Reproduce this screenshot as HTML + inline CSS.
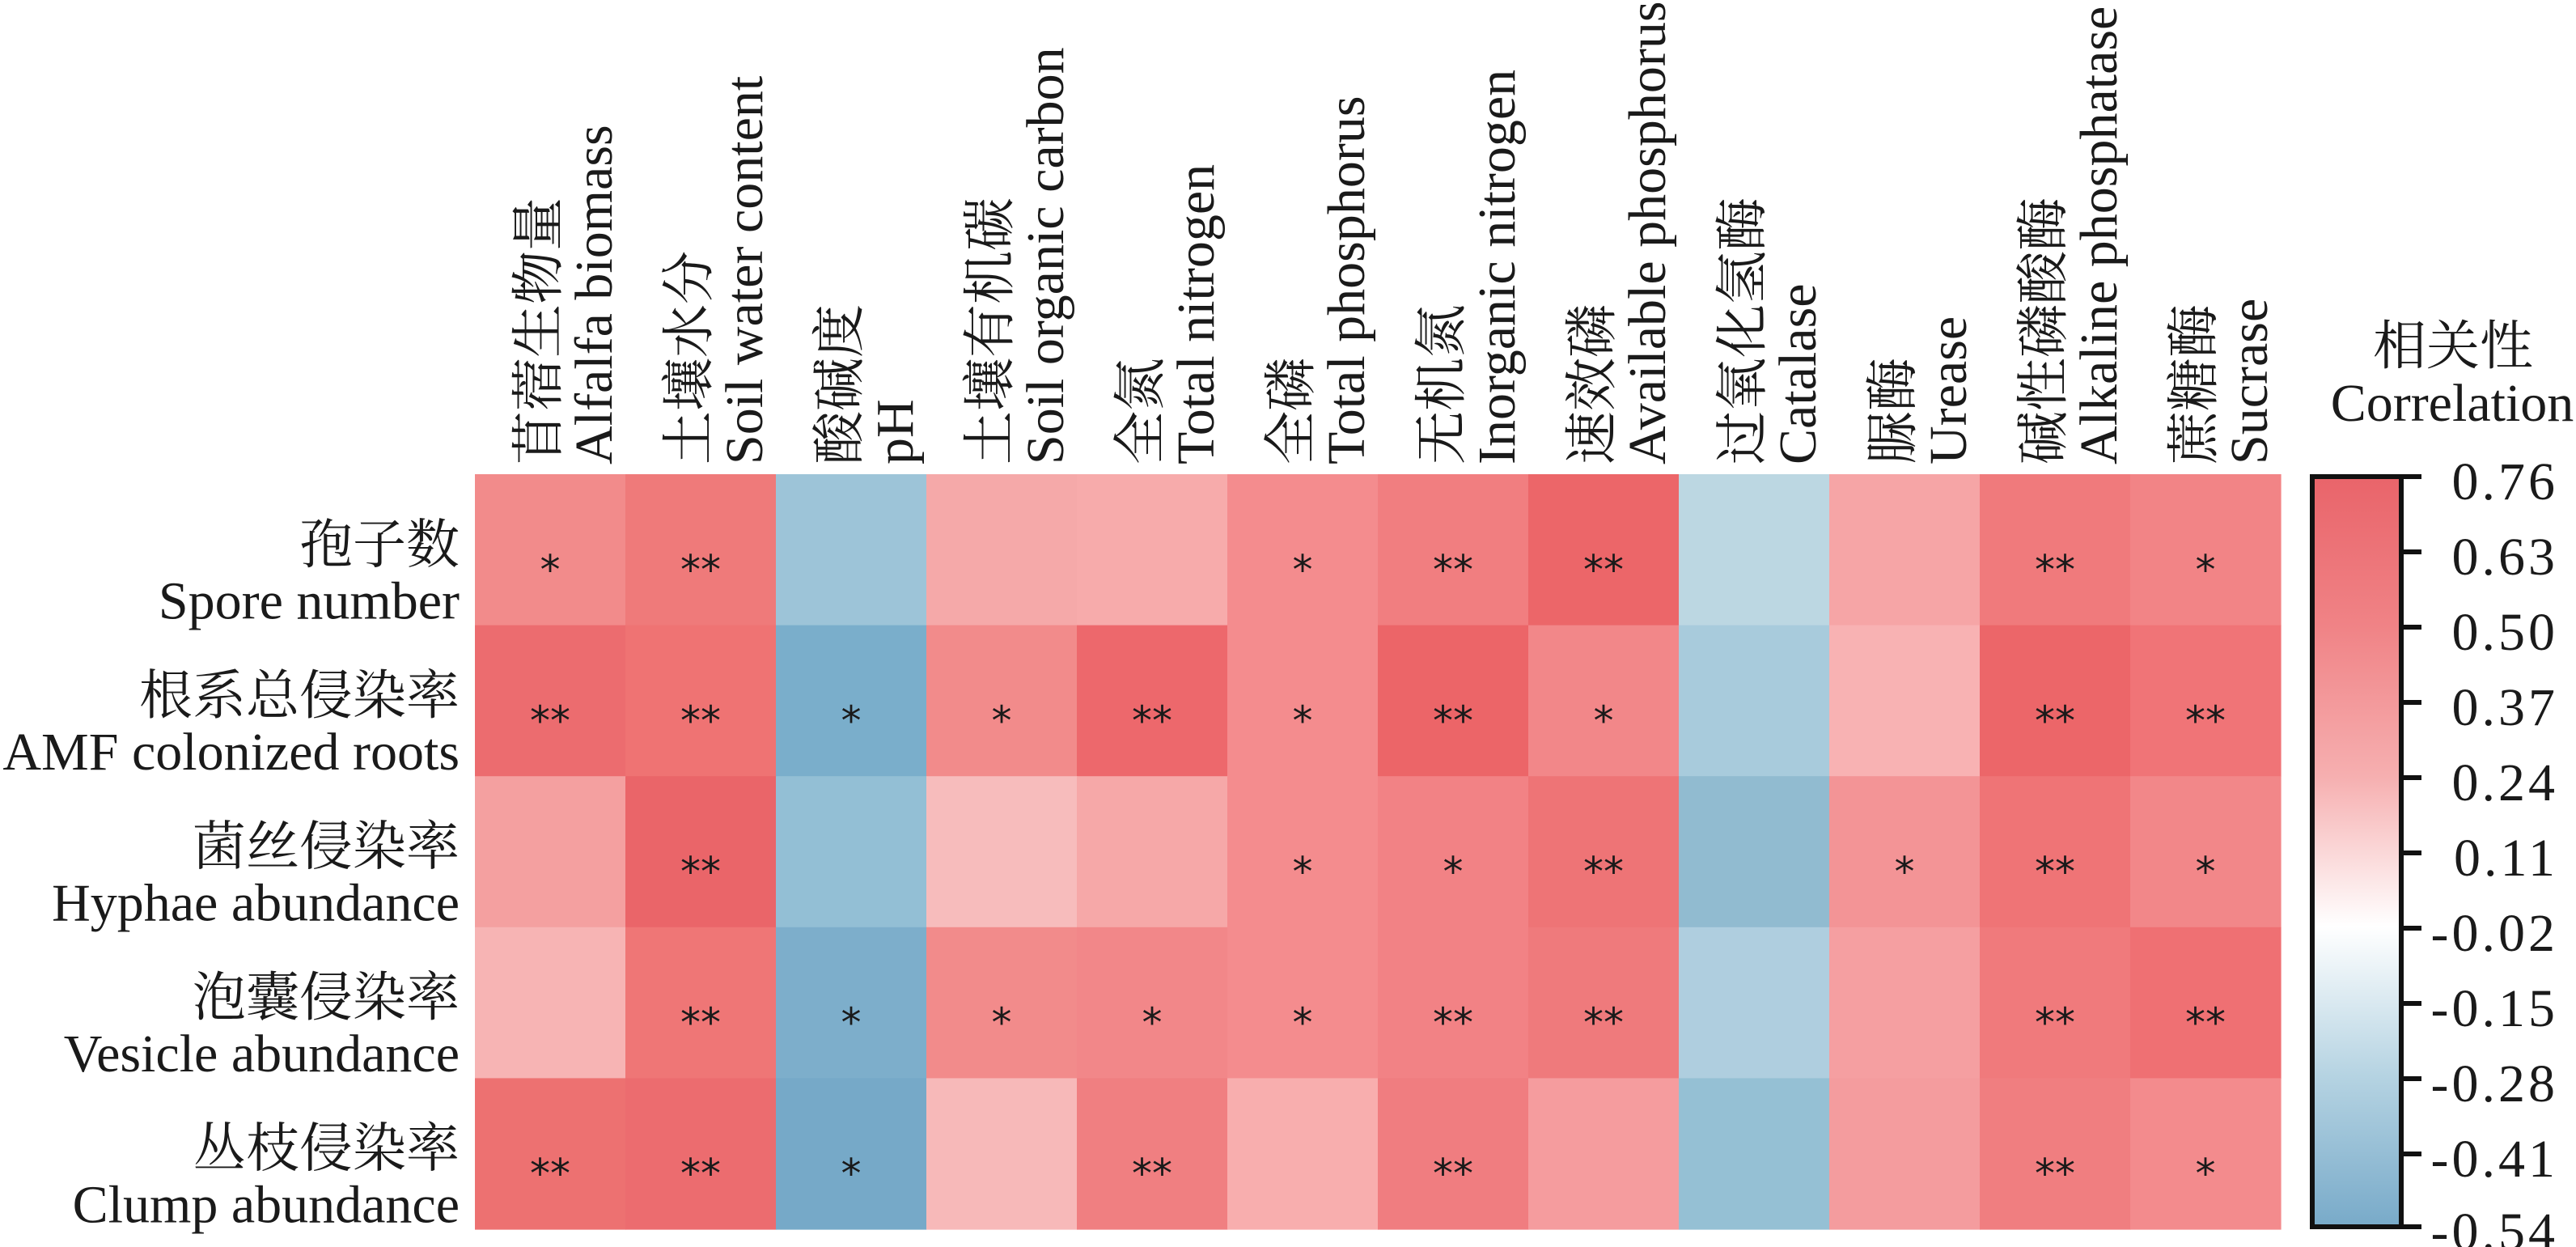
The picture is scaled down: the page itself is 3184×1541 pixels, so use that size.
<!DOCTYPE html>
<html><head><meta charset="utf-8"><style>
html,body{margin:0;padding:0;background:#fff;}
svg{display:block;}
.t{font-family:"Liberation Serif","Noto Serif CJK SC","Noto Sans CJK SC",serif;font-size:66px;fill:#1a1a1a;}
.s{font-family:"DejaVu Sans","Liberation Sans",sans-serif;font-size:50px;fill:#1a1a1a;text-anchor:middle;}
</style></head><body>
<svg width="3184" height="1541" viewBox="0 0 3184 1541" xmlns="http://www.w3.org/2000/svg">
<defs>
<linearGradient id="g" x1="0" y1="0" x2="0" y2="1">
<stop offset="0" stop-color="#e9646a"/>
<stop offset="0.2" stop-color="#f08386"/>
<stop offset="0.4" stop-color="#f6afb0"/>
<stop offset="0.6" stop-color="#ffffff"/>
<stop offset="0.8" stop-color="#b5d3e2"/>
<stop offset="1" stop-color="#78aac9"/>
</linearGradient>
</defs>
<g id="cells"></g>
<g id="labels"></g>
<rect x="2858" y="589" width="110" height="927" fill="url(#g)" stroke="#111" stroke-width="6"/>
<g stroke="#111" stroke-width="6">
<line x1="2965" y1="589" x2="2993" y2="589"/><line x1="2965" y1="682" x2="2993" y2="682"/>
<line x1="2965" y1="775" x2="2993" y2="775"/><line x1="2965" y1="868" x2="2993" y2="868"/>
<line x1="2965" y1="961" x2="2993" y2="961"/><line x1="2965" y1="1054" x2="2993" y2="1054"/>
<line x1="2965" y1="1147" x2="2993" y2="1147"/><line x1="2965" y1="1240" x2="2993" y2="1240"/>
<line x1="2965" y1="1333" x2="2993" y2="1333"/><line x1="2965" y1="1426" x2="2993" y2="1426"/>
<line x1="2965" y1="1516" x2="2993" y2="1516"/>
</g>
<g class="t" text-anchor="end" letter-spacing="4">
<text x="3162" y="617">0.76</text><text x="3162" y="710">0.63</text>
<text x="3162" y="803">0.50</text><text x="3162" y="896">0.37</text>
<text x="3162" y="989">0.24</text><text x="3162" y="1082">0.11</text>
<text x="3162" y="1175">-0.02</text><text x="3162" y="1268">-0.15</text>
<text x="3162" y="1361">-0.28</text><text x="3162" y="1454">-0.41</text>
<text x="3162" y="1544">-0.54</text>
</g>
<text class="t" x="3032" y="450" text-anchor="middle">相关性</text>
<text class="t" x="3031" y="520" text-anchor="middle">Correlation</text>
</svg>
<script>
var C=[
["#f28b8b","#ef7a7a","#9dc4d8","#f5a9a9","#f7abab","#f48c8e","#f17e80","#ec6669","#bcd7e2","#f6a5a6","#f07a7c","#f28486"],
["#ec6c6f","#ef7373","#7aaecb","#f28b8b","#ed686c","#f48c8e","#ec6568","#f28789","#a8cbdc","#f8b2b3","#ec6669","#f07477"],
["#f4a0a0","#ea6569","#93bfd5","#f7bcbc","#f6a8a8","#f48c8e","#f28285","#ee7476","#91bbd0","#f39496","#ef7476","#f28789"],
["#f7b4b4","#ef7676","#7daecb","#f28b8b","#f28789","#f48c8e","#f28285","#ef7a7c","#afcedf","#f59fa1","#f07a7c","#ef7073"],
["#ed7171","#ec6c6f","#76a9c8","#f7b9b9","#f07f81","#f8aeae","#f07d80","#f59c9e","#95c0d4","#f49c9e","#f07e80","#f38b8d"]];
var S=[
["*","**","","","","*","**","**","","","**","*"],
["**","**","*","*","**","*","**","*","","","**","**"],
["","**","","","","*","*","**","","*","**","*"],
["","**","*","*","*","*","**","**","","","**","**"],
["**","**","*","","**","","**","","","","**","*"]];
var x0=587,y0=586,cw=186,rh=186.6,h="";
for(var r=0;r<5;r++)for(var c=0;c<12;c++){
var x=x0+c*cw,y=y0+r*rh;
h+='<rect x="'+x+'" y="'+y+'" width="'+(cw+0.6)+'" height="'+(rh+0.6)+'" fill="'+C[r][c]+'"/>';
if(S[r][c])h+='<text class="s" x="'+(x+cw/2)+'" y="'+(y+rh/2+42)+'">'+S[r][c]+'</text>';}
document.getElementById("cells").innerHTML=h;
var R=[["孢子数","Spore number"],["根系总侵染率","AMF colonized roots"],["菌丝侵染率","Hyphae abundance"],["泡囊侵染率","Vesicle abundance"],["丛枝侵染率","Clump abundance"]];
var K=[["苜蓿生物量","Alfalfa biomass"],["土壤水分","Soil water content"],["酸碱度","pH"],["土壤有机碳","Soil organic carbon"],["全氮","Total nitrogen"],["全磷","Total phosphorus"],["无机氮","Inorganic nitrogen"],["速效磷","Available phosphorus"],["过氧化氢酶","Catalase"],["脲酶","Urease"],["碱性磷酸酶","Alkaline phosphatase"],["蔗糖酶","Sucrase"]];
var g="";
for(var r=0;r<5;r++){var cy=y0+r*rh+rh/2;
g+='<text class="t" x="568" y="'+(cy+16)+'" text-anchor="end">'+R[r][0]+'</text>';
g+='<text class="t" x="568" y="'+(cy+85)+'" text-anchor="end">'+R[r][1]+'</text>';}
for(var c=0;c<12;c++){var cx=x0+c*cw+cw/2;
g+='<text class="t" transform="translate('+(cx+8)+',574) rotate(-90)">'+K[c][0]+'</text>';
g+='<text class="t" transform="translate('+(cx+76)+',574) rotate(-90)">'+K[c][1]+'</text>';}
document.getElementById("labels").innerHTML=g;
</script>
</body></html>
